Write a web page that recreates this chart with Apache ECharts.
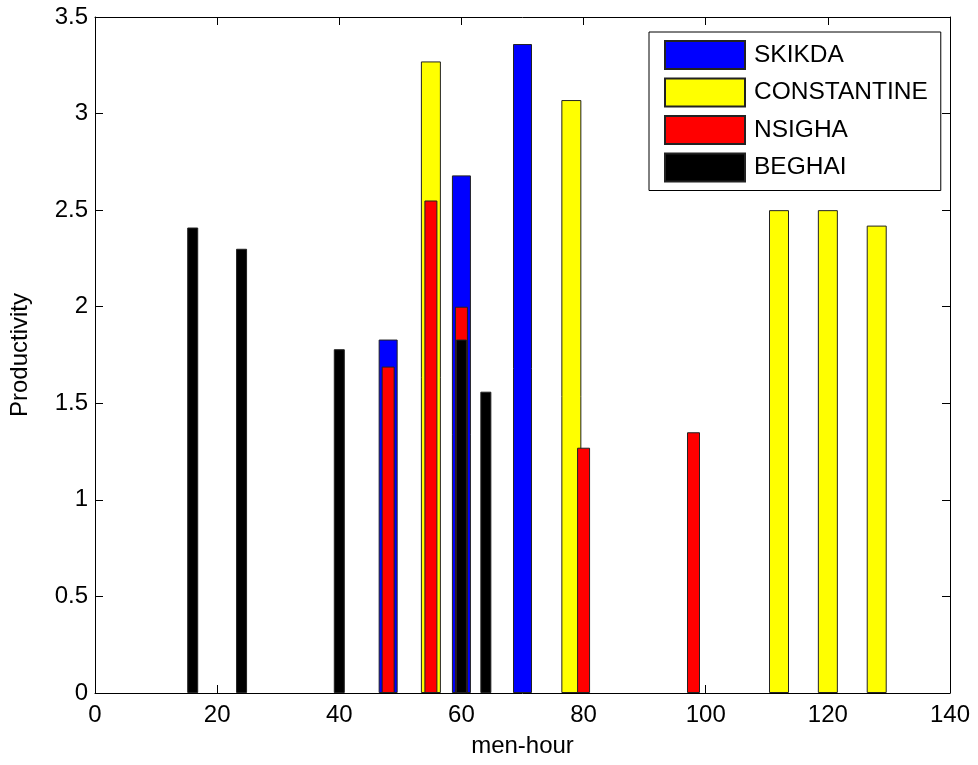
<!DOCTYPE html>
<html>
<head>
<meta charset="utf-8">
<script src="https://cdn.jsdelivr.net/npm/echarts@6/dist/echarts.min.js"></script>
<style>
html,body{margin:0;padding:0;background:#fff;}
#chart{width:978px;height:765px;}
</style>
</head>
<body>
<div id="chart"></div>
<script>
const seriesNames = ['SKIKDA', 'CONSTANTINE', 'NSIGHA', 'BEGHAI'];
const skikdaX = [48, 60, 70];
const skikdaY = [1.83, 2.68, 3.36];
const constantineX = [55, 78, 112, 120, 128];
const constantineY = [3.27, 3.07, 2.50, 2.50, 2.42];
const nsighaX = [48, 55, 60, 80, 98];
const nsighaY = [1.69, 2.55, 2.00, 1.27, 1.35];
const beghaiX = [16, 24, 40, 60, 64];
const beghaiY = [2.41, 2.30, 1.78, 1.83, 1.56];
const xTicks = [0, 20, 40, 60, 80, 100, 120, 140];
const yTicks = [0, 0.5, 1, 1.5, 2, 2.5, 3, 3.5];

const pairs = (xs, ys) => xs.map((x, i) => [x, ys[i]]);
const font = 'Arial, "Liberation Sans", Helvetica, sans-serif';

function xAx(pos, show, labels) {
  return {
    type: 'value', min: xTicks[0], max: xTicks[xTicks.length - 1], interval: 20,
    position: pos, show: show,
    axisLine: {show: true, onZero: false, lineStyle: {color: '#000', width: 1}},
    axisTick: {show: true, inside: true, length: 8, lineStyle: {color: '#000'}},
    axisLabel: {show: labels, color: '#000', fontSize: 24, fontFamily: font, margin: 10},
    splitLine: {show: false},
    name: labels ? 'men-hour' : '', nameLocation: 'middle', nameGap: 41,
    nameTextStyle: {color: '#000', fontSize: 24, fontFamily: font}
  };
}
function yAx(pos, labels) {
  return {
    type: 'value', min: yTicks[0], max: yTicks[yTicks.length - 1], interval: 0.5,
    position: pos,
    axisLine: {show: true, onZero: false, lineStyle: {color: '#000', width: 1}},
    axisTick: {show: true, inside: true, length: 8, lineStyle: {color: '#000'}},
    axisLabel: {show: labels, color: '#000', fontSize: 24, fontFamily: font, margin: 7},
    splitLine: {show: false},
    name: labels ? 'Productivity' : '', nameLocation: 'middle', nameGap: 63, nameRotate: 90,
    nameTextStyle: {color: '#000', fontSize: 24, fontFamily: font}
  };
}

const colors = ['#0000ff', '#ffff00', '#ff0000', '#000000'];
const widths = [19, 20, 13, 11];
const datas = [pairs(skikdaX, skikdaY), pairs(constantineX, constantineY), pairs(nsighaX, nsighaY), pairs(beghaiX, beghaiY)];

const chart = echarts.init(document.getElementById('chart'), null, {renderer: 'canvas'});
chart.setOption({
  animation: false,
  backgroundColor: '#fff',
  grid: {left: 95, right: 28, top: 17, bottom: 72},
  xAxis: [xAx('bottom', true, true), xAx('top', true, false), xAx('bottom', false, false), xAx('bottom', false, false)],
  yAxis: [yAx('left', true), yAx('right', false)],
  legend: {
    orient: 'vertical', left: 649, top: 32,
    padding: [8, 13, 8, 15],
    itemWidth: 80, itemHeight: 28, itemGap: 7.5,
    icon: 'rect',
    borderColor: '#000', borderWidth: 1, backgroundColor: '#fff',
    textStyle: {color: '#000', fontSize: 24.5, fontFamily: font, lineHeight: 28, padding: [0, 0, 0, 4]},
    data: seriesNames,
    selectedMode: false
  },
  series: seriesNames.map((n, i) => ({
    name: n, type: 'bar', xAxisIndex: i, yAxisIndex: 0,
    barWidth: widths[i],
    itemStyle: {color: colors[i], borderColor: '#222', borderWidth: 1},
    data: datas[i]
  }))
});
</script>
</body>
</html>
